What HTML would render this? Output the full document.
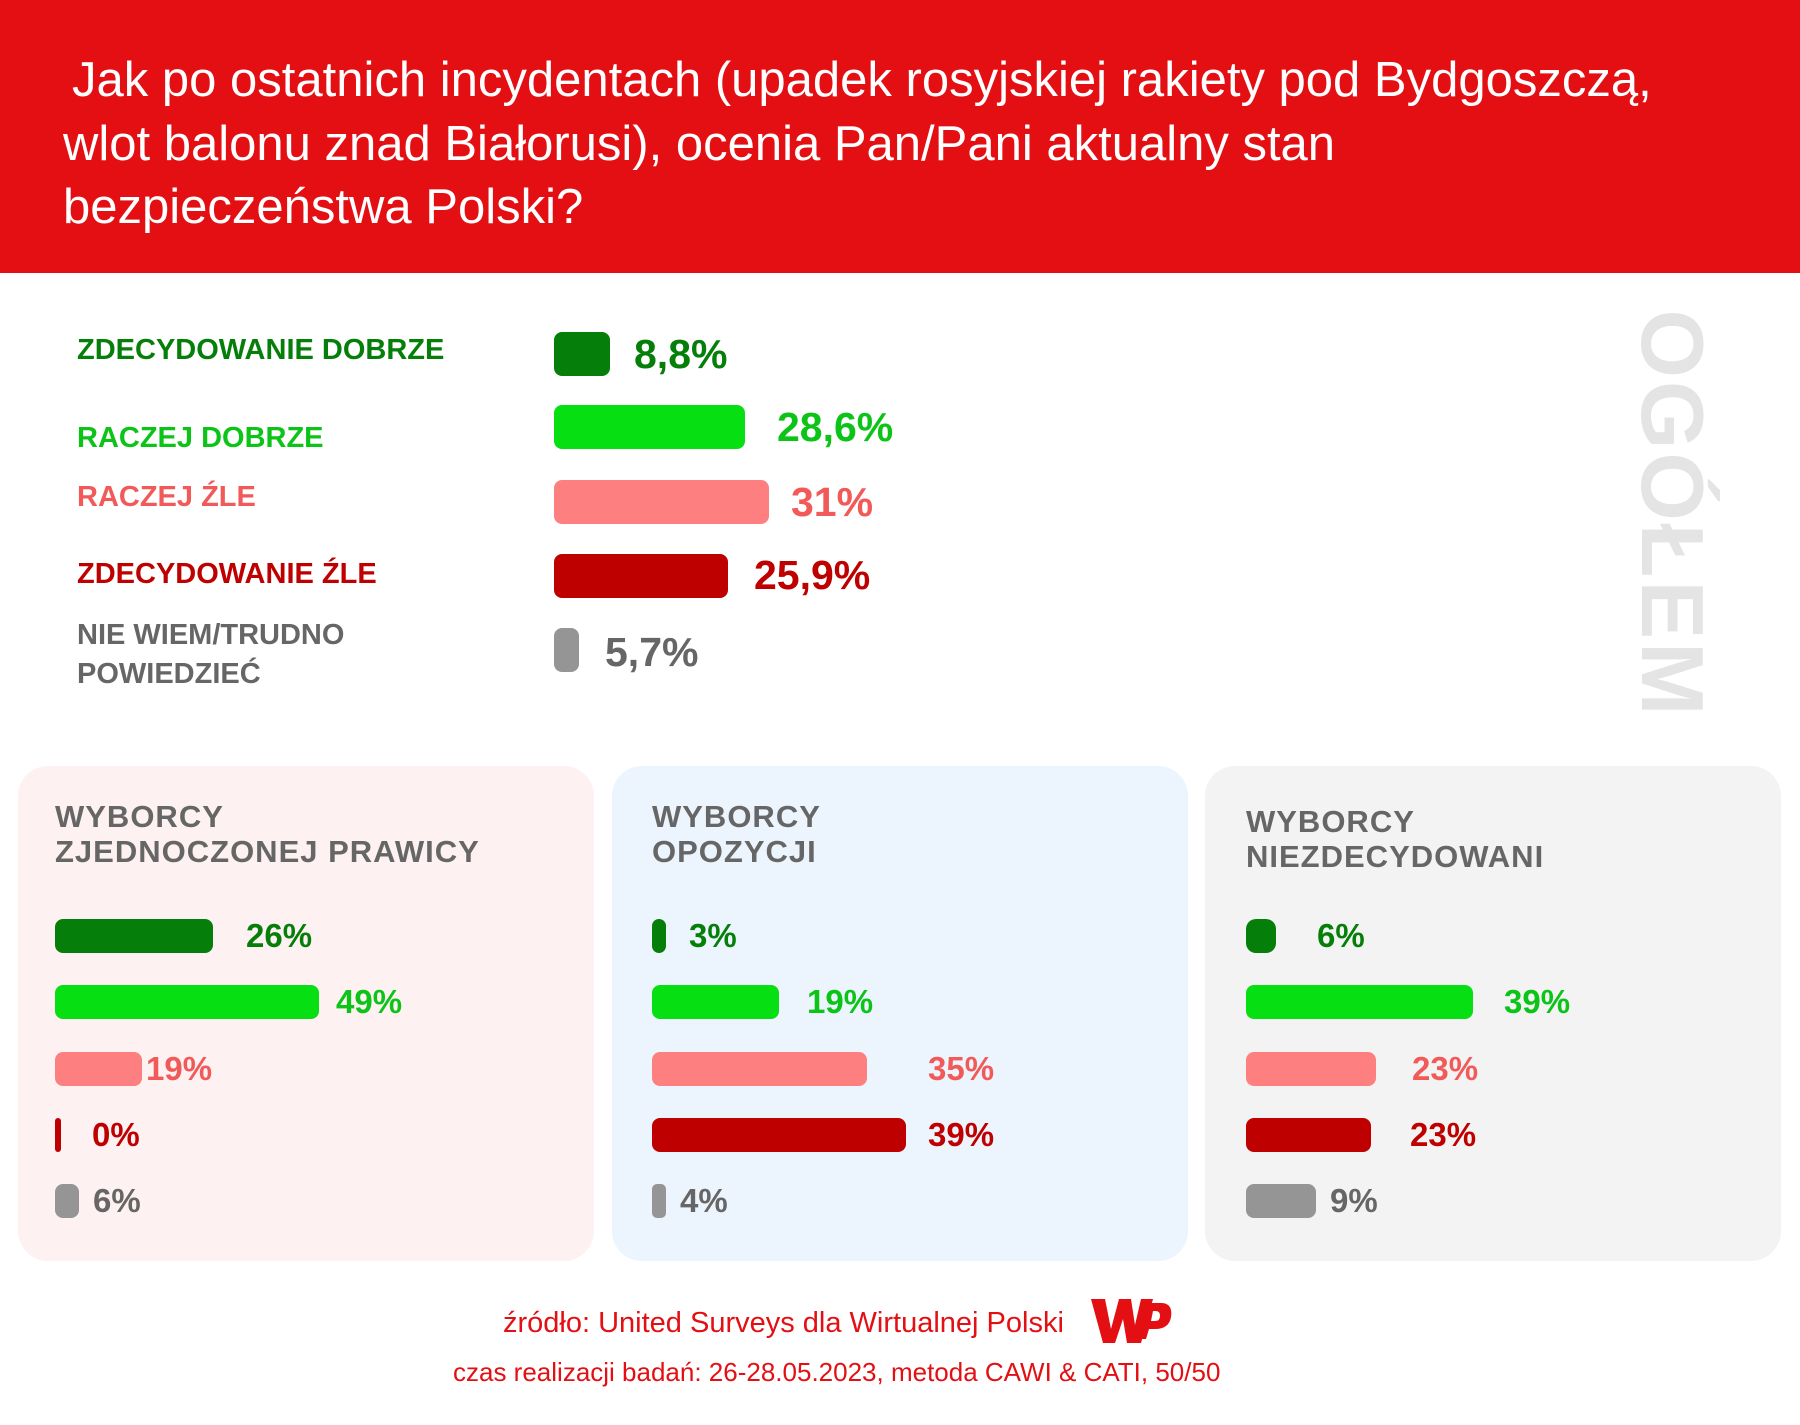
<!DOCTYPE html>
<html><head><meta charset="utf-8"><style>
*{margin:0;padding:0;box-sizing:border-box}
body{width:1800px;height:1425px;background:#fff;position:relative;overflow:hidden;font-family:"Liberation Sans",sans-serif}
.a{position:absolute;white-space:nowrap}
.hdr{left:0;top:0;width:1800px;height:273px;background:#e30f13}
.t{color:#fff;font-size:49px;left:63px;line-height:50px}
.lb{font-family:"Liberation Sans Narrow","Liberation Sans",sans-serif;font-weight:bold;font-size:29px;line-height:36px;left:77px}
.b{position:absolute;border-radius:8px}
.v{font-weight:bold;font-size:41px;line-height:44px}
.pv{font-weight:bold;font-size:33px;line-height:40px}
.pn{position:absolute;top:766px;height:495px;width:576px;border-radius:30px}
.pt{font-family:"Liberation Sans Narrow","Liberation Sans",sans-serif;font-weight:bold;font-size:31px;line-height:35px;color:#666;letter-spacing:1px}
.dg{background:#057f0a}.lg{background:#06df12}.pk{background:#fe7f7f}.dr{background:#bf0000}.gr{background:#959595}
.cdg{color:#057f0a}.clg{color:#0cc418}.cpk{color:#f25a5a}.cdr{color:#bf0000}.cgr{color:#666}
</style></head><body>
<div class="a hdr"></div>
<div class="a t" style="left:72px;top:55px">Jak po ostatnich incydentach (upadek rosyjskiej rakiety pod Bydgoszczą,</div>
<div class="a t" style="top:119px">wlot balonu znad Białorusi), ocenia Pan/Pani aktualny stan</div>
<div class="a t" style="top:182px">bezpieczeństwa Polski?</div>

<div class="a lb cdg" style="top:332px">ZDECYDOWANIE DOBRZE</div>
<div class="a lb clg" style="top:420px">RACZEJ DOBRZE</div>
<div class="a lb cpk" style="top:479px">RACZEJ ŹLE</div>
<div class="a lb cdr" style="top:556px">ZDECYDOWANIE ŹLE</div>
<div class="a lb cgr" style="top:617px">NIE WIEM/TRUDNO</div>
<div class="a lb cgr" style="top:656px">POWIEDZIEĆ</div>

<div class="b dg" style="left:554px;top:332px;width:56px;height:44px"></div>
<div class="b lg" style="left:554px;top:405px;width:191px;height:44px"></div>
<div class="b pk" style="left:554px;top:480px;width:215px;height:44px"></div>
<div class="b dr" style="left:554px;top:554px;width:174px;height:44px"></div>
<div class="b gr" style="left:554px;top:628px;width:25px;height:44px"></div>
<div class="a v cdg" style="left:634px;top:332px">8,8%</div>
<div class="a v clg" style="left:777px;top:405px">28,6%</div>
<div class="a v cpk" style="left:791px;top:480px">31%</div>
<div class="a v cdr" style="left:754px;top:553px">25,9%</div>
<div class="a v cgr" style="left:605px;top:630px">5,7%</div>

<div class="a" style="left:1672px;top:514px;transform:translate(-50%,-50%) rotate(90deg);font-weight:bold;font-size:88px;color:#e4e4e4;letter-spacing:3px;line-height:88px">OGÓŁEM</div>

<div class="pn" style="left:18px;background:#fdf1f1"></div>
<div class="pn" style="left:612px;background:#ecf4fd"></div>
<div class="pn" style="left:1205px;background:#f3f3f3"></div>

<div class="a pt" style="left:55px;top:799px">WYBORCY</div>
<div class="a pt" style="left:55px;top:834px">ZJEDNOCZONEJ PRAWICY</div>
<div class="a pt" style="left:652px;top:799px">WYBORCY</div>
<div class="a pt" style="left:652px;top:834px">OPOZYCJI</div>
<div class="a pt" style="left:1246px;top:804px">WYBORCY</div>
<div class="a pt" style="left:1246px;top:839px">NIEZDECYDOWANI</div>

<div class="b dg" style="left:55px;top:919px;width:158px;height:34px"></div>
<div class="b lg" style="left:55px;top:985px;width:264px;height:34px"></div>
<div class="b pk" style="left:55px;top:1052px;width:87px;height:34px"></div>
<div class="b dr" style="left:55px;top:1118px;width:6px;height:34px;border-radius:3px"></div>
<div class="b gr" style="left:55px;top:1184px;width:24px;height:34px"></div>
<div class="a pv cdg" style="left:246px;top:916px">26%</div>
<div class="a pv clg" style="left:336px;top:982px">49%</div>
<div class="a pv cpk" style="left:146px;top:1049px">19%</div>
<div class="a pv cdr" style="left:92px;top:1115px">0%</div>
<div class="a pv cgr" style="left:93px;top:1181px">6%</div>

<div class="b dg" style="left:652px;top:919px;width:14px;height:34px;border-radius:7px"></div>
<div class="b lg" style="left:652px;top:985px;width:127px;height:34px"></div>
<div class="b pk" style="left:652px;top:1052px;width:215px;height:34px"></div>
<div class="b dr" style="left:652px;top:1118px;width:254px;height:34px"></div>
<div class="b gr" style="left:652px;top:1184px;width:14px;height:34px;border-radius:5px"></div>
<div class="a pv cdg" style="left:689px;top:916px">3%</div>
<div class="a pv clg" style="left:807px;top:982px">19%</div>
<div class="a pv cpk" style="left:928px;top:1049px">35%</div>
<div class="a pv cdr" style="left:928px;top:1115px">39%</div>
<div class="a pv cgr" style="left:680px;top:1181px">4%</div>

<div class="b dg" style="left:1246px;top:919px;width:30px;height:34px;border-radius:10px"></div>
<div class="b lg" style="left:1246px;top:985px;width:227px;height:34px"></div>
<div class="b pk" style="left:1246px;top:1052px;width:130px;height:34px"></div>
<div class="b dr" style="left:1246px;top:1118px;width:125px;height:34px"></div>
<div class="b gr" style="left:1246px;top:1184px;width:70px;height:34px"></div>
<div class="a pv cdg" style="left:1317px;top:916px">6%</div>
<div class="a pv clg" style="left:1504px;top:982px">39%</div>
<div class="a pv cpk" style="left:1412px;top:1049px">23%</div>
<div class="a pv cdr" style="left:1410px;top:1115px">23%</div>
<div class="a pv cgr" style="left:1330px;top:1181px">9%</div>

<div class="a" style="left:503px;top:1306px;font-size:29px;line-height:34px;color:#e30f13">źródło: United Surveys dla Wirtualnej Polski</div>
<svg class="a" style="left:1089px;top:1295px" width="84" height="52" viewBox="0 0 84 52">
<path d="M2 4 L16 4 L22 34 L30 4 L42 4 L46 30 L52 4 L64 4 L52 48 L38 48 L34 24 L26 48 L14 48 Z" fill="#e30f13"/>
<path d="M56 8 L72 8 Q84 8 82 22 Q80 34 66 34 L60 34 L57 44 L48 44 Z M64 16 L62 26 L66 26 Q71 26 71 21 Q71 16 67 16 Z" fill="#e30f13"/>
</svg>
<div class="a" style="left:453px;top:1357px;font-size:26px;line-height:30px;color:#e30f13">czas realizacji badań: 26-28.05.2023, metoda CAWI &amp; CATI, 50/50</div>
</body></html>
